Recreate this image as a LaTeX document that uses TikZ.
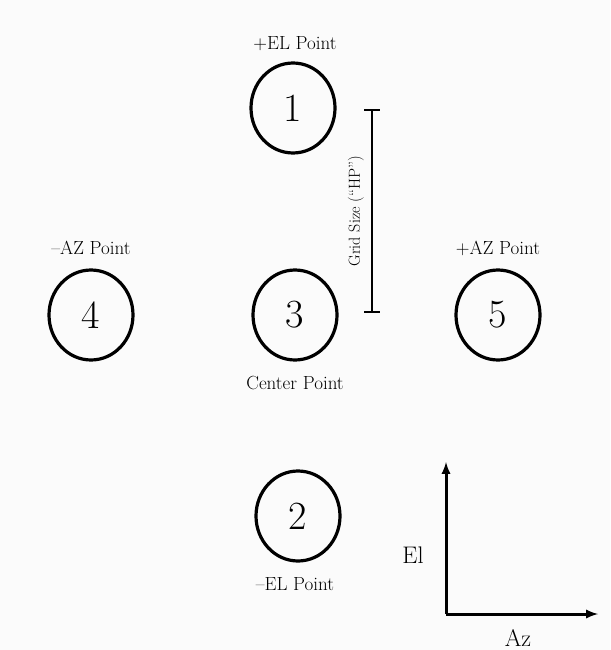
\documentclass[tikz,border=0pt]{standalone}
\usepackage{tikz}
\usetikzlibrary{shapes.geometric}
\begin{document}
\begin{tikzpicture}[x=1pt,y=-1pt,
  pt/.style={draw,ellipse,line width=3.2pt,minimum width=84pt,minimum height=90pt,inner sep=0pt,font=\fontsize{40}{44}\selectfont},
  lab/.style={font=\fontsize{19}{22}\selectfont}]
\fill[gray!3] (0,0) rectangle (610,650);
\useasboundingbox (0,0) rectangle (610,650);

% points
\node[pt] (p1) at (293,108) {1};
\node[pt] (p3) at (295,315) {3};
\node[pt] (p4) at (91,315) {4};
\node[pt] (p5) at (498,315) {5};
\node[pt] (p2) at (298,516) {2};

% labels
\node[lab] (l1) at (295,44) {+EL Point};
\node[lab] (l4) at (91,248) {--AZ Point};
\node[lab] (l5) at (498,248) {+AZ Point};
\node[lab] (l3) at (295,383) {Center Point};
\node[lab] (l2) at (295,584) {--EL Point};

% grid size
\coordinate (gt) at (372,110);
\coordinate (gb) at (372,312);
\draw[line width=2.5pt] (gt) -- (gb);
\draw[line width=2pt] ([xshift=-8pt]gt) -- ([xshift=8pt]gt);
\draw[line width=2pt] ([xshift=-8pt]gb) -- ([xshift=8pt]gb);
\node[lab,rotate=90,font=\fontsize{16}{19}\selectfont] (gs) at (356,211) {Grid Size (``HP'')};

% axes
\coordinate (o) at (446,614);
\coordinate (ey) at (446,462);
\coordinate (ex) at (598,614);
\draw[line width=3pt,-latex] (o) -- (ey);
\draw[line width=3pt,-latex] (o) -- (ex);
\node[lab,font=\fontsize{24}{28}\selectfont] (el) at (413,555) {El};
\node[lab,font=\fontsize{24}{28}\selectfont] (az) at (518,638) {Az};
\end{tikzpicture}
\end{document}
